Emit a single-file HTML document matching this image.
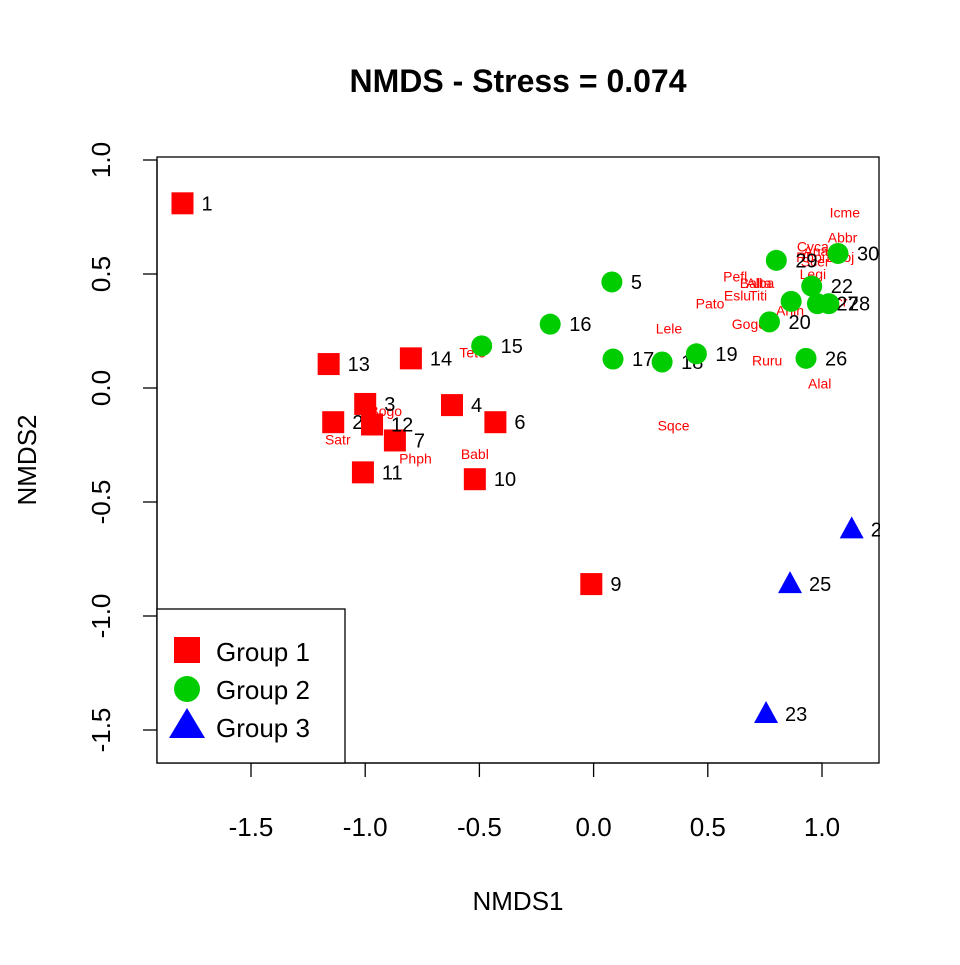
<!DOCTYPE html>
<html><head><meta charset="utf-8"><style>body{margin:0;background:#fff}svg{font-family:"Liberation Sans",Arial,sans-serif}</style></head>
<body>
<svg id="c" width="960" height="960" xmlns="http://www.w3.org/2000/svg">
<defs><clipPath id="clip"><rect x="157" y="157" width="723" height="606"/></clipPath></defs>
<rect width="960" height="960" fill="#fff"/>
<text x="518" y="92" text-anchor="middle" font-size="32" font-weight="bold">NMDS - Stress = 0.074</text>
<text x="518" y="910" text-anchor="middle" font-size="26">NMDS1</text>
<text transform="translate(36,460) rotate(-90)" text-anchor="middle" font-size="26">NMDS2</text>
<g id="axes"></g><g id="species" clip-path="url(#clip)"></g><g id="pts" clip-path="url(#clip)"></g>
<rect x="157" y="157" width="722" height="606" fill="none" stroke="#000" stroke-width="1.3"/>
<g>
<rect x="157" y="609" width="188" height="154" fill="#fff" stroke="#000" stroke-width="1.3"/>
<rect x="174" y="637" width="26" height="26" fill="#f00"/>
<text x="216" y="661" font-size="26">Group 1</text>
<circle cx="187" cy="689" r="13" fill="#00cd00"/>
<text x="216" y="699" font-size="26">Group 2</text>
<polygon points="187,708 205,738 169,738" fill="#00f"/>
<text x="216" y="737" font-size="26">Group 3</text>
</g>
</svg>
<script>
const xTicks=[-1.5,-1.0,-0.5,0.0,0.5,1.0];
const yTicks=[-1.5,-1.0,-0.5,0.0,0.5,1.0];
const siteIds=[1,2,3,4,6,7,9,10,11,12,13,14,5,15,16,17,18,19,20,21,22,26,27,28,29,30,23,24,25];
const siteGroup=[1,1,1,1,1,1,1,1,1,1,1,1,2,2,2,2,2,2,2,2,2,2,2,2,2,2,3,3,3];
const siteX=[-1.80,-1.14,-1.00,-0.62,-0.43,-0.87,-0.01,-0.52,-1.01,-0.97,-1.16,-0.80,0.08,-0.49,-0.19,0.085,0.30,0.45,0.77,0.865,0.955,0.93,0.98,1.03,0.80,1.07,0.755,1.13,0.86];
const siteY=[0.81,-0.15,-0.07,-0.075,-0.15,-0.23,-0.86,-0.40,-0.37,-0.16,0.105,0.13,0.465,0.185,0.28,0.127,0.114,0.15,0.29,0.38,0.447,0.13,0.37,0.37,0.56,0.59,-1.43,-0.62,-0.86];
const spNames=["Icme","Abbr","Cyca","Anan","Rhpi","Scer","Baoj","Legi","Pefl","Balta","Alba","Eslu","Titi","Pato","Sccr","Anin","Lele","Gogo","Ruru","Alal","Sqce","Teto","Bogo","Satr","Phph","Babl"];
const spX=[1.10,1.09,0.96,0.99,0.95,0.97,1.08,0.96,0.62,0.71,0.73,0.63,0.72,0.51,1.05,0.86,0.33,0.68,0.76,0.99,0.35,-0.53,-0.91,-1.12,-0.78,-0.52];
const spY=[0.77,0.66,0.62,0.60,0.575,0.555,0.575,0.50,0.49,0.46,0.46,0.405,0.405,0.37,0.38,0.34,0.26,0.28,0.12,0.02,-0.165,0.155,-0.10,-0.225,-0.31,-0.29];
const X=v=>593.6+v*228.4, Y=v=>388-v*228;
const NS="http://www.w3.org/2000/svg";
function mk(p,t,a){const e=document.createElementNS(NS,t);for(const k in a)e.setAttribute(k,a[k]);document.getElementById(p).appendChild(e);return e;}
let l=mk('axes','line',{x1:X(xTicks[0]),x2:X(xTicks[xTicks.length-1]),y1:763,y2:763,stroke:'#000','stroke-width':1.3});


xTicks.forEach(t=>{let e=mk('axes','line',{x1:X(t),x2:X(t),y1:763,y2:777,stroke:'#000','stroke-width':1.3});


let s=mk('axes','text',{x:X(t),y:836,'text-anchor':'middle','font-size':26});s.textContent=t.toFixed(1);

});
l=mk('axes','line',{x1:157,x2:157,y1:Y(yTicks[0]),y2:Y(yTicks[yTicks.length-1]),stroke:'#000','stroke-width':1.3});


yTicks.forEach(t=>{let e=mk('axes','line',{x1:143,x2:157,y1:Y(t),y2:Y(t),stroke:'#000','stroke-width':1.3});


let s=mk('axes','text',{transform:`translate(110,${Y(t)}) rotate(-90)`,'text-anchor':'middle','font-size':26});s.textContent=t.toFixed(1);

});
spNames.forEach((n,i)=>{let s=mk('species','text',{x:X(spX[i]),y:Y(spY[i])+5,'text-anchor':'middle','font-size':14,fill:'#f00'});s.textContent=n;

});
siteIds.forEach((id,i)=>{const cx=X(siteX[i]),cy=Y(siteY[i]),g=siteGroup[i];let e;
if(g===1)e=mk('pts','rect',{x:cx-11,y:cy-11,width:22,height:22,fill:'#f00'});
else if(g===2)e=mk('pts','circle',{cx:cx,cy:cy,r:10.5,fill:'#00cd00'});
else e=mk('pts','polygon',{points:`${cx},${cy-13} ${cx+12},${cy+9} ${cx-12},${cy+9}`,fill:'#00f'});


let s=mk('pts','text',{x:cx+19,y:cy+7,'font-size':20});s.textContent=id;

});
</script>
</body></html>
